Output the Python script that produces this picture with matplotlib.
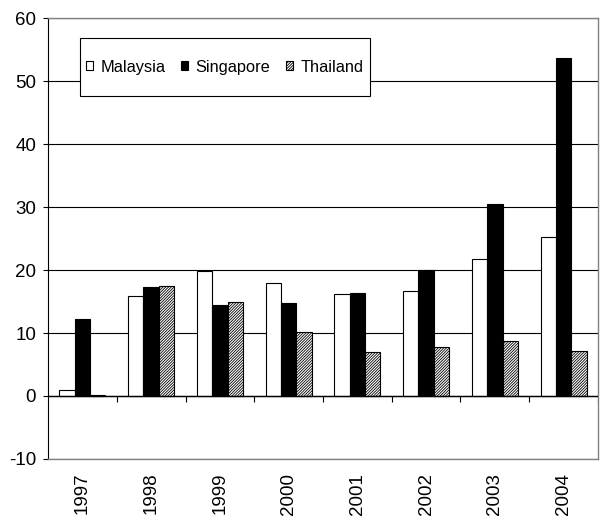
import numpy as np
import matplotlib.pyplot as plt
from matplotlib.patches import Rectangle

plt.rcParams['font.family'] = ['Liberation Sans', 'DejaVu Sans']
plt.rcParams['axes.unicode_minus'] = False
plt.rcParams['hatch.linewidth'] = 0.6
plt.rcParams['hatch.color'] = '#333333'

# --- DATA ---
years = ['1997', '1998', '1999', '2000', '2001', '2002', '2003', '2004']
malaysia = [1.0, 15.9, 19.8, 18.0, 16.2, 16.6, 21.8, 25.2]
singapore = [12.3, 17.3, 14.5, 14.8, 16.4, 20.0, 30.5, 53.6]
thailand = [0.1, 17.5, 15.0, 10.2, 7.0, 7.75, 8.8, 7.1]

fig = plt.figure(figsize=(6.04, 5.16), dpi=100)
ax = fig.add_axes([0.0795, 0.1105, 0.9105, 0.8545])

x = np.arange(len(years))
w = 0.223
ax.bar(x - w, malaysia, w, color='white', edgecolor='black', linewidth=0.8,
       label='Malaysia', zorder=3)
ax.bar(x, singapore, w, color='black', edgecolor='black', linewidth=0.8,
       label='Singapore', zorder=3)
ax.bar(x + w, thailand, w, color='white', edgecolor='black', linewidth=0.8,
       hatch='/' * 12, label='Thailand', zorder=3)

ax.set_xlim(-0.5, len(years) - 0.5)
ax.set_ylim(-10, 60)
ax.set_yticks(range(-10, 61, 10))
ax.yaxis.grid(True, color='black', linewidth=0.8)
ax.set_axisbelow(True)

# zero line with category separators
ax.axhline(0, color='black', linewidth=1.0, zorder=4)
ax.vlines(x[1:] - 0.5, -0.9, 0, color='black', linewidth=0.8, zorder=4)
ax.vlines([len(years) - 0.5], -0.9, 0, color='black', linewidth=0.8, zorder=4)

ax.set_xticks(x)
ax.set_xticklabels(years, rotation=90, fontsize=13.5)
ax.tick_params(axis='x', length=0, pad=10)
ax.tick_params(axis='y', labelsize=13.5, length=3.6, width=0.8,
               direction='out', pad=5)

for s in ['top', 'right', 'bottom']:
    ax.spines[s].set_color('#808080')
    ax.spines[s].set_linewidth(1.0)
ax.spines['left'].set_color('black')

# legend box (Excel style, taller than the text)
box = Rectangle((0.058, 0.823), 0.527, 0.132, transform=ax.transAxes,
                facecolor='white', edgecolor='black', linewidth=0.8, zorder=5)
ax.add_patch(box)
leg = ax.legend(loc='center', bbox_to_anchor=(0.3215, 0.889), ncol=3,
                fontsize=11.8, frameon=False,
                handlelength=0.42, handleheight=0.42, handletextpad=0.45,
                columnspacing=0.95, borderpad=0, borderaxespad=0)
leg.set_zorder(6)

fig.savefig('out.png', dpi=100)
